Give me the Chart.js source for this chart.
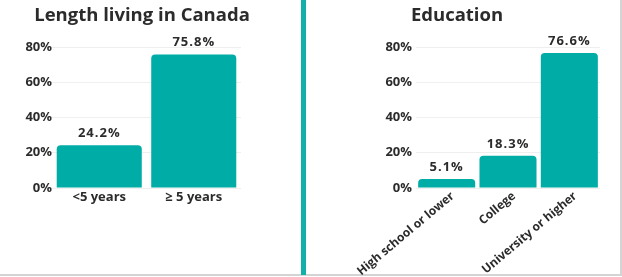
<!DOCTYPE html>
<html>
<head>
<meta charset="utf-8">
<script src="https://cdn.jsdelivr.net/npm/chart.js@4"></script>
<style>
  html, body { margin: 0; padding: 0; background: #fff; }
  #frame { position: absolute; left: 0; top: 0; width: 620px; height: 274px;
           border-right: 2px solid #d4d4d4; border-bottom: 2px solid #d4d4d4; }
  #divider { position: absolute; left: 301px; top: 0; width: 5px; height: 275px; background: #12b0a9; }
  .box { position: absolute; top: 0; }
  #leftBox { left: 0; width: 300px; height: 277px; }
  #rightBox { left: 310px; width: 308px; height: 275px; }
</style>
</head>
<body>
<div id="frame"></div>
<div id="divider"></div>
<div class="box" id="leftBox"><canvas id="lengthChart"></canvas></div>
<div class="box" id="rightBox"><canvas id="eduChart"></canvas></div>
<script>
var lengthLabels = ['<5 years', '\u2265 5 years'];
var lengthValues = [24.2, 75.8];

var eduLabels = ['High school or lower', 'College', 'University or higher'];
var eduValues = [5.1, 18.3, 76.6];

var yTicks = [0, 20, 40, 60, 80];

var teal = '#00aca6';
var textColor = '#2b2b2b';
var fontFamily = '"Open Sans", "DejaVu Sans", sans-serif';

// draws the panel title and the value on top of each bar
var labelPlugin = {
  id: 'barLabels',
  afterDatasetsDraw: function(chart) {
    var ctx = chart.ctx;
    var opts = chart.options.plugins.barLabels;
    ctx.save();
    ctx.fillStyle = textColor;
    ctx.textAlign = 'center';
    ctx.textBaseline = 'middle';
    ctx.font = 'bold 18.5px ' + fontFamily;
    ctx.fillText(opts.title, opts.titleX, 16);

    ctx.font = 'bold 13px ' + fontFamily;
    ctx.letterSpacing = '1px';
    ctx.textBaseline = 'alphabetic';
    var meta = chart.getDatasetMeta(0);
    var data = chart.data.datasets[0].data;
    for (var i = 0; i < meta.data.length; i++) {
      var bar = meta.data[i];
      ctx.fillText(data[i].toFixed(1) + '%', bar.x, bar.y - 8);
    }
    ctx.restore();
  }
};

function makeChart(id, labels, values, title, titleX, pad, axisH, yAxis, barPct, xt) {
  return new Chart(document.getElementById(id), {
    type: 'bar',
    data: {
      labels: labels,
      datasets: [{
        data: values,
        backgroundColor: teal,
        borderRadius: { topLeft: 4, topRight: 4, bottomLeft: 0, bottomRight: 0 },
        borderSkipped: 'bottom',
        barPercentage: barPct,
        categoryPercentage: 1
      }]
    },
    options: {
      responsive: true,
      maintainAspectRatio: false,
      animation: false,
      layout: { padding: { top: 47, right: pad, left: 0, bottom: 0 } },
      plugins: {
        legend: { display: false },
        tooltip: { enabled: false },
        barLabels: { title: title, titleX: titleX }
      },
      scales: {
        x: {
          grid: { display: false, drawTicks: false },
          border: { display: false },
          ticks: {
            color: textColor,
            font: { family: fontFamily, weight: 'bold', size: xt.size },
            padding: 1,
            autoSkip: false,
            labelOffset: xt.offset,
            maxRotation: xt.rotate,
            minRotation: xt.rotate
          },
          afterFit: function(scale) { scale.height = axisH; }
        },
        y: {
          min: 0,
          max: yTicks[yTicks.length - 1],
          afterBuildTicks: function(scale) {
            scale.ticks = yTicks.map(function(v) { return { value: v }; });
          },
          grid: { color: '#efefef', drawTicks: false },
          border: { display: false },
          ticks: {
            color: textColor,
            padding: yAxis.pad,
            font: { family: fontFamily, weight: 'bold', size: 13 },
            callback: function(v) { return v + '%'; }
          },
          afterFit: function(scale) { scale.width = yAxis.width; }
        }
      }
    },
    plugins: [labelPlugin]
  });
}

// left panel: chart area x ~52..241, y 47..188
makeChart('lengthChart', lengthLabels, lengthValues,
  'Length living in Canada', 142, 59, 89, { width: 52, pad: 0 }, 0.9,
  { size: 13, rotate: 0, offset: 0 });

// right panel: chart area x 416..600 (canvas starts at 310)
makeChart('eduChart', eduLabels, eduValues,
  'Education', 147, 18, 87, { width: 106, pad: 4 }, 0.93,
  { size: 12, rotate: 40, offset: 6 });
</script>
</body>
</html>
